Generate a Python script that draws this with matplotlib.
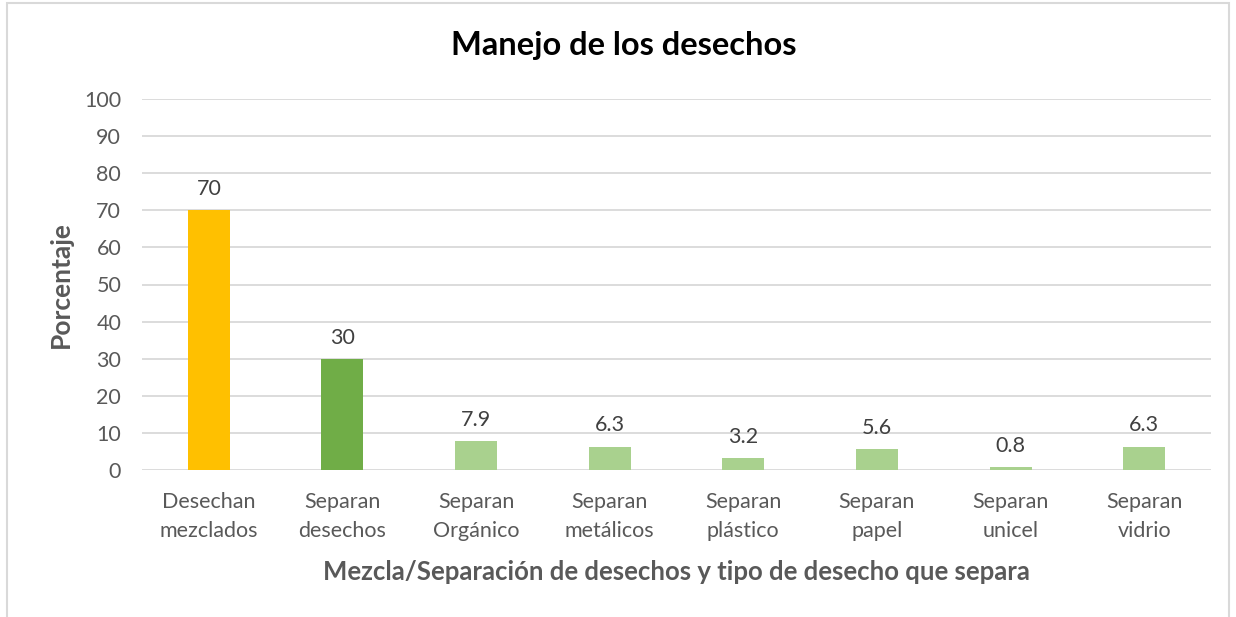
import matplotlib
matplotlib.use("Agg")
import matplotlib.pyplot as plt
from matplotlib.patches import Rectangle

categories = ["Desechan\nmezclados", "Separan\ndesechos", "Separan\nOrgánico", "Separan\nmetálicos",
              "Separan\nplástico", "Separan\npapel", "Separan\nunicel", "Separan\nvidrio"]
values = [70, 30, 7.9, 6.3, 3.2, 5.6, 0.8, 6.3]
labels = ["70", "30", "7.9", "6.3", "3.2", "5.6", "0.8", "6.3"]
colors = ["#FFC000", "#70AD47", "#A9D18E", "#A9D18E", "#A9D18E", "#A9D18E", "#A9D18E", "#A9D18E"]
yticks = [0, 10, 20, 30, 40, 50, 60, 70, 80, 90, 100]

plt.rcParams['font.family'] = ['Lato', 'DejaVu Sans']

fig = plt.figure(figsize=(12.36, 6.17), dpi=100)
ax = fig.add_axes([142/1236, 1-470/617, (1211-142)/1236, (470-99)/617])

x = list(range(len(categories)))
ax.bar(x, values, width=0.315, color=colors, zorder=3)
for xi, v, l in zip(x, values, labels):
    ax.text(xi, v + 3.0, l, ha='center', va='bottom', fontsize=15.5, color='#404040')

ax.set_xlim(-0.5, len(categories) - 0.5)
ax.set_ylim(0, 100)
ax.set_yticks(yticks)
ax.set_yticklabels([str(t) for t in yticks])
ax.set_xticks(x)
ax.set_xticklabels(categories, fontsize=15.5, color='#595959', linespacing=1.55)
ax.tick_params(axis='y', labelsize=15.5, labelcolor='#595959', length=0, pad=15)
ax.tick_params(axis='x', length=0, pad=16)
ax.grid(axis='y', color='#D9D9D9', linewidth=1.3, zorder=0)
for s in ax.spines.values():
    s.set_visible(False)

ax.set_ylabel("Porcentaje", fontsize=19, fontweight='bold', color='#595959', labelpad=8)
ax.set_xlabel("Mezcla/Separación de desechos y tipo de desecho que separa", fontsize=18.5,
              fontweight='bold', color='#595959', labelpad=14)
fig.text(0.505, 1-46/617, "Manejo de los desechos", ha='center', va='center', fontsize=23.5,
         fontweight='bold', color='#000000')

fig.patches.append(Rectangle((7/1236, -0.01), (1229-7)/1236, 1-3/617+0.01, transform=fig.transFigure,
                             fill=False, edgecolor='#D9D9D9', linewidth=1.5))

fig.savefig("out.png", dpi=100)
